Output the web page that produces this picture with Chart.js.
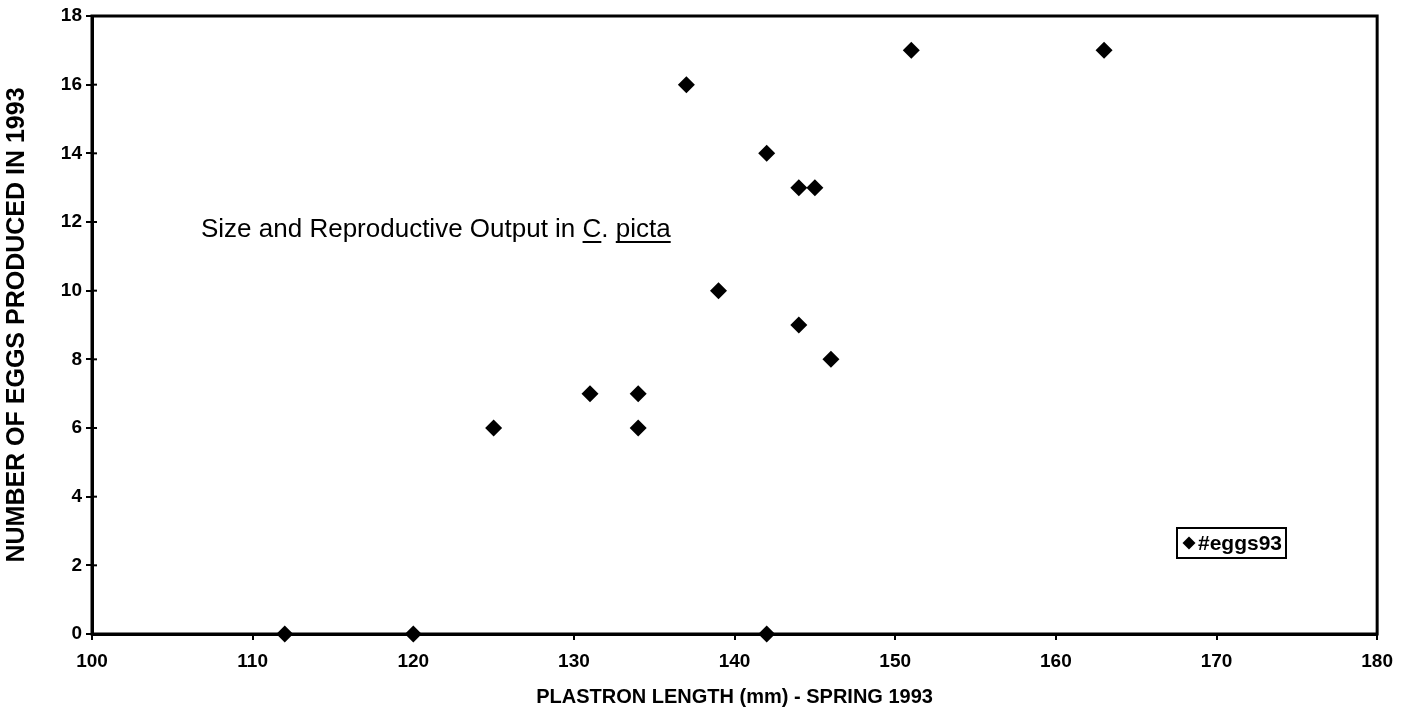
<!DOCTYPE html>
<html>
<head>
<meta charset="utf-8">
<script src="https://cdn.jsdelivr.net/npm/chart.js@4/dist/chart.umd.min.js"></script>
<style>
  html, body { margin: 0; padding: 0; background: #fff; }
  #wrap { width: 1403px; height: 722px; position: relative; }
</style>
</head>
<body>
<div id="wrap"><canvas id="chart"></canvas></div>
<script>
// plastron length (mm) vs eggs produced
const plastronLength = [112, 120, 125, 131, 134, 134, 137, 139, 142, 142, 144, 144, 145, 146, 151, 163];
const eggs93 = [0, 0, 6, 7, 7, 6, 16, 10, 14, 0, 13, 9, 13, 8, 17, 17];

const seriesName = '#eggs93';
const xAxisTitle = 'PLASTRON LENGTH (mm) - SPRING 1993';
const yAxisTitle = 'NUMBER OF EGGS PRODUCED IN 1993';
const xTicks = { min: 100, max: 180, step: 10 };
const yTicks = { min: 0, max: 18, step: 2 };

const points = plastronLength.map((x, i) => ({ x: x, y: eggs93[i] }));

const FONT = '"Liberation Sans", Arial, sans-serif';

// frame on top/right, inline title, boxed legend
const extras = {
  id: 'extras',
  afterDraw(chart) {
    const { ctx, chartArea: a } = chart;
    ctx.save();
    ctx.strokeStyle = '#000';
    ctx.lineWidth = 3;
    ctx.strokeRect(a.left, a.top, a.right - a.left, a.bottom - a.top);

    // ticks on the left axis cross the line a little
    const ys = chart.scales.y;
    ctx.lineWidth = 2;
    ys.ticks.forEach(t => {
      const py = ys.getPixelForValue(t.value);
      ctx.beginPath();
      ctx.moveTo(a.left, py);
      ctx.lineTo(a.left + 5, py);
      ctx.stroke();
    });

    // title inside the plot
    const parts = [
      { t: 'Size and Reproductive Output in ', u: false },
      { t: 'C', u: true },
      { t: '. ', u: false },
      { t: 'picta', u: true }
    ];
    ctx.font = '26px ' + FONT;
    ctx.fillStyle = '#000';
    ctx.textBaseline = 'alphabetic';
    let x = 201;
    const base = 237;
    parts.forEach(p => {
      ctx.fillText(p.t, x, base);
      const w = ctx.measureText(p.t).width;
      if (p.u) {
        ctx.lineWidth = 2;
        ctx.beginPath();
        ctx.moveTo(x, base + 5);
        ctx.lineTo(x + w, base + 5);
        ctx.stroke();
      }
      x += w;
    });

    // legend box
    const bx = 1177, by = 528, bw = 109, bh = 30;
    ctx.lineWidth = 2;
    ctx.strokeRect(bx, by, bw, bh);
    const cx = 1189, cy = by + bh / 2, r = 6.5;
    ctx.beginPath();
    ctx.moveTo(cx, cy - r);
    ctx.lineTo(cx + r, cy);
    ctx.lineTo(cx, cy + r);
    ctx.lineTo(cx - r, cy);
    ctx.closePath();
    ctx.fill();
    ctx.font = 'bold 21px ' + FONT;
    ctx.textBaseline = 'middle';
    ctx.fillText(seriesName, 1198, cy + 1);
    ctx.restore();
  }
};

new Chart(document.getElementById('chart'), {
  type: 'scatter',
  data: {
    datasets: [{
      label: seriesName,
      data: points,
      pointStyle: 'rectRot',
      pointRadius: 8.5,
      pointHoverRadius: 8.5,
      backgroundColor: '#000',
      borderColor: '#000',
      borderWidth: 0,
      clip: false
    }]
  },
  options: {
    responsive: true,
    maintainAspectRatio: false,
    animation: false,
    layout: { padding: { top: 16, right: 25, left: 0, bottom: 0 } },
    plugins: {
      legend: { display: false },
      tooltip: { enabled: false }
    },
    scales: {
      x: {
        type: 'linear',
        min: xTicks.min,
        max: xTicks.max,
        afterFit: s => { s.height = 88; },
        border: { display: true, color: '#000', width: 3 },
        grid: { drawOnChartArea: false, drawTicks: true, tickLength: 6, color: '#000', lineWidth: 2 },
        ticks: {
          stepSize: xTicks.step,
          color: '#000',
          padding: 10,
          maxRotation: 0,
          font: { family: FONT, size: 19, weight: 'bold' }
        },
        title: {
          display: true,
          text: xAxisTitle,
          color: '#000',
          padding: { top: 0, bottom: 13 },
          font: { family: FONT, size: 20, weight: 'bold' }
        }
      },
      y: {
        type: 'linear',
        min: yTicks.min,
        max: yTicks.max,
        afterFit: s => { s.width = 92; },
        border: { display: true, color: '#000', width: 3 },
        grid: { drawOnChartArea: false, drawTicks: true, tickLength: 6, color: '#000', lineWidth: 2 },
        ticks: {
          stepSize: yTicks.step,
          color: '#000',
          padding: 4,
          font: { family: FONT, size: 19, weight: 'bold' }
        },
        title: {
          display: true,
          text: yAxisTitle,
          color: '#000',
          padding: { top: 2, bottom: 0 },
          font: { family: FONT, size: 25, weight: 'bold' }
        }
      }
    }
  },
  plugins: [extras]
});
</script>
</body>
</html>
